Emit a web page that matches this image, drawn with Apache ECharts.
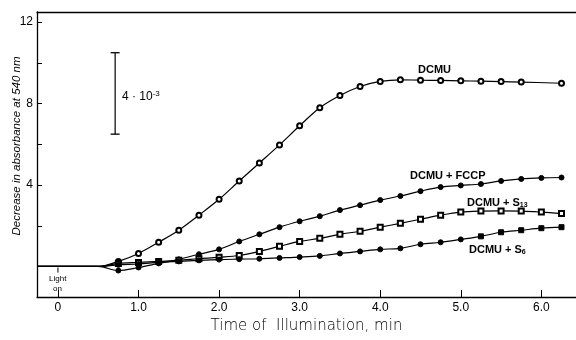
<!DOCTYPE html>
<html>
<head>
<meta charset="utf-8">
<script src="https://cdn.jsdelivr.net/npm/echarts@6/dist/echarts.min.js"></script>
<style>
  html, body { margin: 0; padding: 0; background: #fff; }
  #chart { width: 576px; height: 340px; }
</style>
</head>
<body>
<div id="chart"></div>
<script>
// time of illumination (min) for the measured points
const times = [0.75, 1.0, 1.25, 1.5, 1.75, 2.0, 2.25, 2.5, 2.75, 3.0, 3.25, 3.5,
  3.75, 4.0, 4.25, 4.5, 4.75, 5.0, 5.25, 5.5, 5.75, 6.0, 6.25];
// lead-in before the first reading (light on at 0)
const leadTimes = [-0.26, 0.5];
const leadValues = [0, 0];

const dcmu = [0.25, 0.64, 1.19, 1.78, 2.52, 3.3, 4.2, 5.08, 5.97, 6.91, 7.8, 8.4,
  8.84, 9.09, 9.17, 9.15, 9.14, 9.12, 9.1, 9.08, 9.06, null, 9.0];
const dcmuFccp = [-0.2, -0.05, 0.15, 0.35, 0.6, 0.84, 1.23, 1.58, 1.93, 2.22, 2.47, 2.77,
  3.01, 3.26, 3.46, 3.7, 3.9, 3.98, 4.05, 4.2, 4.3, 4.35, 4.37];
const dcmuS13 = [0.15, 0.2, 0.25, 0.3, 0.38, 0.45, 0.54, 0.74, 0.99, 1.23, 1.38, 1.58,
  1.73, 1.93, 2.12, 2.32, 2.52, 2.67, 2.72, 2.73, 2.72, 2.67, 2.6];
const dcmuS6 = [0.08, 0.12, 0.2, 0.25, 0.3, 0.34, 0.36, 0.38, 0.42, 0.46, 0.52, 0.64,
  0.74, 0.84, 0.89, 1.09, 1.19, 1.33, 1.48, 1.68, 1.78, 1.88, 1.93];

// scale bar: 4 units on the absorbance axis
const scaleBarX = 0.71;
const scaleBarY = [6.5, 10.5];

const xTicks = [0, 1, 2, 3, 4, 5, 6];
const yTicks = [2, 4, 6, 8, 10, 12];
const yLabels = [4, 8, 12];

const chart = echarts.init(document.getElementById('chart'));

function buildData(values) {
  const lead = leadTimes.map((t, i) => ({ value: [t, leadValues[i]], symbol: 'none' }));
  const pts = times.map((t, i) => [t, values[i]]);
  return lead.concat(pts);
}

function curve(name, values, symbol) {
  return {
    name: name,
    type: 'line',
    smooth: 0.35,
    connectNulls: true,
    symbol: symbol,
    symbolSize: 5,
    itemStyle: { color: '#000', borderColor: '#000', borderWidth: 1 },
    lineStyle: { color: '#000', width: 1.2 },
    data: buildData(values),
    z: 3,
  };
}

const textStyle = { fontFamily: 'Liberation Sans, Arial, sans-serif', fill: '#000' };

chart.setOption({
  backgroundColor: '#fff',
  animation: false,
  grid: { left: 37, right: 0, top: 12, bottom: 43, outerBoundsMode: 'none' },
  xAxis: [
    {
      type: 'value',
      min: -0.26,
      max: 6.43,
      splitLine: { show: false },
      axisLine: { onZero: false, lineStyle: { color: '#000', width: 1.3 } },
      axisTick: { inside: true, length: 7, customValues: xTicks, lineStyle: { color: '#000' } },
      axisLabel: {
        customValues: xTicks,
        margin: 5,
        color: '#000',
        fontSize: 12,
        fontFamily: 'Liberation Sans, Arial, sans-serif',
        formatter: (v) => (v === 0 ? '0' : v.toFixed(1)),
      },
      name: 'Time of  Illumination, min',
      nameLocation: 'middle',
      nameGap: 19,
      nameTextStyle: { color: '#000', fontSize: 15, fontFamily: 'DejaVu Sans, sans-serif', fontWeight: 300 },
    },
    {
      type: 'value',
      position: 'top',
      min: -0.26,
      max: 6.43,
      splitLine: { show: false },
      axisLine: { onZero: false, lineStyle: { color: '#000', width: 1.3 } },
      axisTick: { show: false },
      axisLabel: { show: false },
    },
  ],
  yAxis: {
    type: 'value',
    min: -1.5,
    max: 12.5,
    splitLine: { show: false },
    axisLine: { show: true, onZero: false, lineStyle: { color: '#000', width: 1.3 } },
    axisTick: { inside: true, length: 5, customValues: yTicks, lineStyle: { color: '#000' } },
    axisLabel: {
      customValues: yLabels,
      margin: 4,
      color: '#000',
      fontSize: 12,
      fontFamily: 'Liberation Sans, Arial, sans-serif',
    },
  },
  series: [
    curve('DCMU', dcmu, 'emptyCircle'),
    curve('DCMU + FCCP', dcmuFccp, 'circle'),
    curve('DCMU + S13', dcmuS13, 'emptyRect'),
    curve('DCMU + S6', dcmuS6, (v) => (v[0] > 5.1 ? 'rect' : 'circle')),
    {
      name: 'scale',
      type: 'line',
      symbol: 'rect',
      symbolSize: [9, 1.3],
      itemStyle: { color: '#000' },
      lineStyle: { color: '#000', width: 1.2 },
      data: scaleBarY.map((y) => [scaleBarX, y]),
    },
    {
      // "light on" marker under the baseline at t = 0
      name: 'light',
      type: 'line',
      symbol: 'none',
      lineStyle: { color: '#000', width: 1 },
      data: [[0, -0.05], [0, -0.3]],
    },
  ],
  graphic: [
    {
      // y axis title
      type: 'text',
      x: 17,
      y: 146,
      rotation: Math.PI / 2,
      style: Object.assign({}, textStyle, {
        text: 'Decrease in absorbance at 540 nm',
        fontSize: 11.5,
        fontStyle: 'italic',
        align: 'center',
        verticalAlign: 'middle',
      }),
    },
    { type: 'text', left: 122, top: 90, style: Object.assign({}, textStyle, {
      text: '4 · 10{sup|-3}', fontSize: 12,
      rich: { sup: { fontSize: 8, verticalAlign: 'top', padding: [0, 0, 6, 0] } },
    }) },
    { type: 'text', left: 418, top: 64, style: Object.assign({}, textStyle, { text: 'DCMU', fontSize: 11, fontWeight: 'bold' }) },
    { type: 'text', left: 410, top: 170, style: Object.assign({}, textStyle, { text: 'DCMU + FCCP', fontSize: 11, fontWeight: 'bold' }) },
    { type: 'text', left: 467, top: 197, style: Object.assign({}, textStyle, {
      text: 'DCMU + S{sub|13}', fontSize: 11, fontWeight: 'bold',
      rich: { sub: { fontSize: 7, fontWeight: 'bold', padding: [5, 0, 0, 0] } },
    }) },
    { type: 'text', left: 469, top: 244, style: Object.assign({}, textStyle, {
      text: 'DCMU + S{sub|6}', fontSize: 11, fontWeight: 'bold',
      rich: { sub: { fontSize: 7, fontWeight: 'bold', padding: [5, 0, 0, 0] } },
    }) },
    { type: 'text', left: 49, top: 275, style: Object.assign({}, textStyle, { text: 'Light', fontSize: 8 }) },
    { type: 'text', left: 53, top: 285, style: Object.assign({}, textStyle, { text: 'on', fontSize: 8 }) },
  ],
});
</script>
</body>
</html>
